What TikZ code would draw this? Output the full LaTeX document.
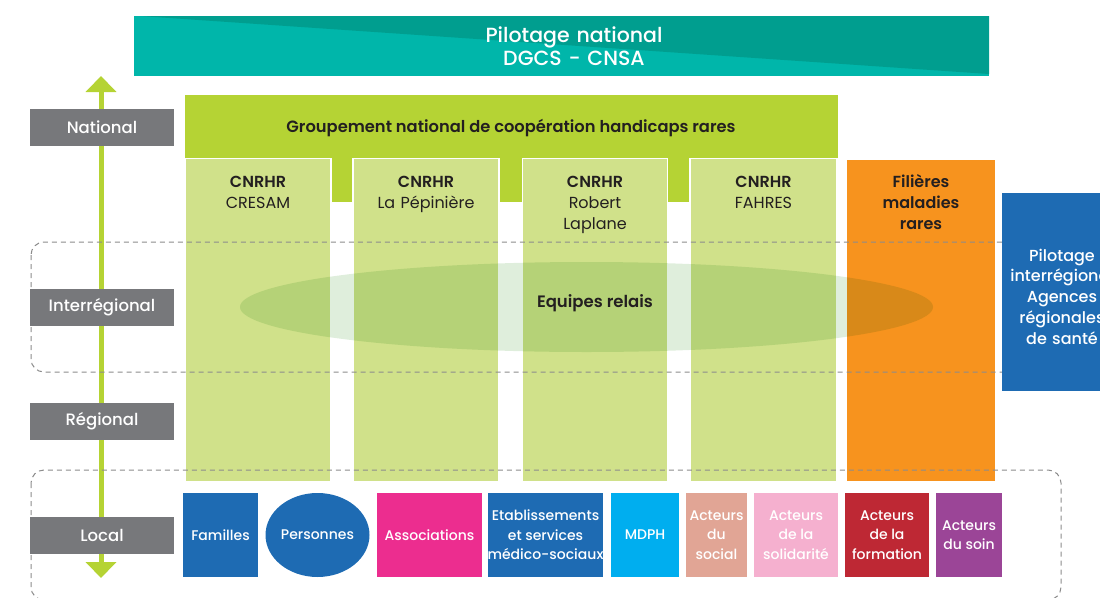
\documentclass[tikz,border=0pt]{standalone}
\usepackage{fontspec}
\setmainfont{Poppins}
\newfontfamily\medfont{Poppins Medium}
\newfontfamily\semifont{Poppins SemiBold}
\usetikzlibrary{shapes.geometric,arrows.meta}
\definecolor{tealL}{HTML}{00B6AA}
\definecolor{tealD}{HTML}{009E8F}
\definecolor{lime}{HTML}{B5D334}
\definecolor{colgreen}{HTML}{D0E18A}
\definecolor{greyL}{HTML}{77787B}
\definecolor{orangeF}{HTML}{F7931E}
\definecolor{blueB}{HTML}{1E6BB3}
\definecolor{pinkA}{HTML}{EC2D8F}
\definecolor{cyanM}{HTML}{00AEEF}
\definecolor{salmonS}{HTML}{E1A595}
\definecolor{lpinkS}{HTML}{F5B0CF}
\definecolor{redF}{HTML}{BE2834}
\definecolor{purpleS}{HTML}{9B4597}
\definecolor{darkT}{HTML}{231F20}
\definecolor{dashC}{HTML}{8C8C8C}
\definecolor{ellC}{RGB}{223,238,220}
\tikzset{
  lbl/.style={fill=greyL, text=white, minimum width=144pt, minimum height=37pt, inner sep=0pt, font=\medfont\fontsize{16.5}{18}\selectfont},
  bot/.style={text=white, align=center, inner sep=0pt, minimum height=84pt, font=\medfont\fontsize{14}{19.5}\selectfont},
  colbox/.style={fill=colgreen, draw=white, line width=1.2pt, anchor=north, minimum height=323pt, inner sep=0pt},
  coltext/.style={text=darkT, anchor=base, align=center, text width=140pt, inner sep=0pt, font=\fontsize{16}{21}\selectfont},
  dashline/.style={draw=dashC, line width=1pt, dash pattern=on 5pt off 4pt, rounded corners=13pt},
}
\begin{document}
\begin{tikzpicture}[x=1pt,y=-1pt]
\useasboundingbox (0,0) rectangle (1100,597);
% banner
\fill[tealL] (134,16) rectangle (989,76);
\fill[tealD] (140,16) -- (989,16) -- (989,74) -- cycle;
\node[text=white, anchor=base, align=center, text width=300pt, inner sep=0pt, font=\medfont\fontsize{20.5}{23}\selectfont] (banner) at (574,42) {Pilotage national\\DGCS - CNSA};
% axis
\coordinate (axTop) at (101,76);
\coordinate (axBot) at (101,578);
\draw[lime, line width=5pt, {Triangle[width=30pt,length=16pt]}-{Triangle[width=30pt,length=16pt]}] (axBot) -- (axTop);
% groupement
\fill[lime] (185,95) rectangle (838,202);
\node[text=darkT, font=\semifont\fontsize{16.3}{18}\selectfont, inner sep=0pt] (grp) at (511,128) {Groupement national de coopération handicaps rares};
\node[colbox, minimum width=146pt] (c1) at (258,158) {};
\node[colbox, minimum width=146pt] (c2) at (426,158) {};
\node[colbox, minimum width=145pt] (c3) at (595,158) {};
\node[colbox, minimum width=147pt] (c4) at (763.5,158) {};
\node[fill=orangeF, anchor=north, minimum width=148pt, minimum height=321pt, inner sep=0pt] (fil) at (921,160) {};
% ellipse
\begin{scope}[blend mode=multiply]
\node[ellipse, fill=ellC, minimum width=693pt, minimum height=90pt, inner sep=0pt] (ell) at (586.5,307) {};
\end{scope}
\node[text=darkT, font=\semifont\fontsize{16.5}{18}\selectfont, inner sep=0pt] (eqt) at (595,303) {Equipes relais};
% column texts
\node[coltext] (t1) at (258,187) {{\semifont CNRHR}\\CRESAM};
\node[coltext] (t2) at (426,187) {{\semifont CNRHR}\\La Pépinière};
\node[coltext] (t3) at (595,187) {{\semifont CNRHR}\\Robert\\Laplane};
\node[coltext] (t4) at (763.5,187) {{\semifont CNRHR}\\FAHRES};
\node[coltext, font=\semifont\fontsize{16}{21}\selectfont] (t5) at (921,187) {Filières\\maladies\\rares};
% dashed zones
\draw[dashline] (31,242) rectangle (1045,372);
\draw[dashline] (31,470) rectangle (1061,600);
% blue right box
\node[fill=blueB, anchor=north west, minimum width=125pt, minimum height=198pt, inner sep=0pt] (arsbox) at (1002,193) {};
\node[coltext, text=white, text width=120pt, font=\medfont\fontsize{16}{20.8}\selectfont] (arst) at (1062,261) {Pilotage\\interrégional\\Agences\\régionales\\de santé};
% bottom row
\node[bot, fill=blueB, minimum width=75pt] (fam) at (220.5,535) {Familles};
\node[bot, ellipse, fill=blueB, minimum width=104pt] (pers) at (317.5,535) {Personnes};
\node[bot, fill=pinkA, minimum width=105pt] (asso) at (429.5,535) {Associations};
\node[bot, fill=blueB, minimum width=115pt] (etab) at (545.5,535) {Etablissements\\et services\\médico-sociaux};
\node[bot, fill=cyanM, minimum width=68pt] (mdph) at (645,535) {MDPH};
\node[bot, fill=salmonS, minimum width=61pt] (soc) at (716.5,535) {Acteurs\\du\\social};
\node[bot, fill=lpinkS, minimum width=84pt] (sol) at (796,535) {Acteurs\\de la\\solidarité};
\node[bot, fill=redF, minimum width=84pt] (form) at (887,535) {Acteurs\\de la\\formation};
\node[bot, fill=purpleS, minimum width=66pt] (soin) at (969,535) {Acteurs\\du soin};
% level labels
\node[lbl] (nat) at (102,127.5) {National};
\node[lbl] (inter) at (102,307.5) {Interrégional};
\node[lbl] (reg) at (102,421.5) {Régional};
\node[lbl] (loc) at (102,535.5) {Local};
\end{tikzpicture}
\end{document}
